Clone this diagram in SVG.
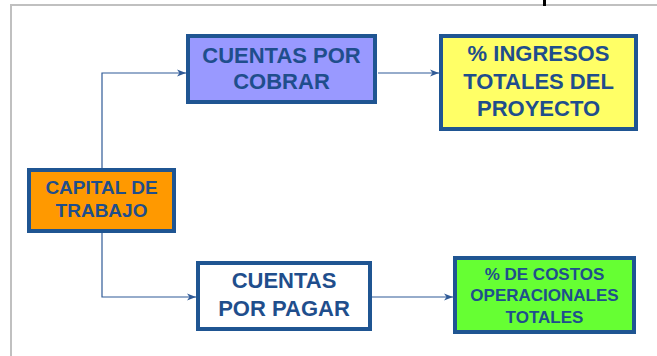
<svg xmlns="http://www.w3.org/2000/svg" width="657" height="356" viewBox="0 0 657 356">
<style>
.box{stroke:#1F5592;stroke-width:4}
.t{font-family:"Liberation Sans",Arial,sans-serif;font-weight:bold;fill:#1F4E8C;text-anchor:middle}
.c{fill:none;stroke:#2F5A97;stroke-width:1.2}
</style>
<defs>
<marker id="ah" markerWidth="10" markerHeight="8" refX="9" refY="4" orient="auto" markerUnits="userSpaceOnUse">
<path d="M0,0.5 L9,4 L0,7.5 L2.5,4 z" fill="#2F5A97"/>
</marker>
</defs>
<rect width="657" height="356" fill="#fff"/>
<path d="M11,356 V5 H657" fill="none" stroke="#C0C0C0" stroke-width="2"/>
<rect x="543" y="0" width="3" height="6" fill="#000"/>
<g id="connectors">
<path class="c" d="M102,168 V73 H186" marker-end="url(#ah)"/>
<path class="c" d="M378,73 H439" marker-end="url(#ah)"/>
<path class="c" d="M102,233 V297 H196" marker-end="url(#ah)"/>
<path class="c" d="M372,297 H453" marker-end="url(#ah)"/>
</g>
<g id="cuentas-cobrar">
<rect class="box" x="188" y="36" width="187" height="66" fill="#9999FF"/>
<text class="t" font-size="22" x="281.5" y="63">CUENTAS POR</text>
<text class="t" font-size="22" x="281.5" y="89">COBRAR</text>
</g>
<g id="ingresos">
<rect class="box" x="441" y="36" width="195" height="93" fill="#FFFF66"/>
<text class="t" font-size="22" x="538.5" y="61">% INGRESOS</text>
<text class="t" font-size="22" x="538.5" y="89">TOTALES DEL</text>
<text class="t" font-size="22" x="538.5" y="116">PROYECTO</text>
</g>
<g id="capital">
<rect class="box" x="29" y="170" width="145" height="61" fill="#FF9900"/>
<text class="t" font-size="19" x="101.5" y="194">CAPITAL DE</text>
<text class="t" font-size="19" x="101.5" y="217">TRABAJO</text>
</g>
<g id="cuentas-pagar">
<rect class="box" x="198" y="263" width="172" height="66" fill="#FFFFFF"/>
<text class="t" font-size="22" x="284" y="288">CUENTAS</text>
<text class="t" font-size="22" x="284" y="316">POR PAGAR</text>
</g>
<g id="costos">
<rect class="box" x="455" y="258" width="179" height="74" fill="#66FF33"/>
<text class="t" font-size="17" x="544.5" y="280">% DE COSTOS</text>
<text class="t" font-size="17" x="544.5" y="301">OPERACIONALES</text>
<text class="t" font-size="17" x="544.5" y="323">TOTALES</text>
</g>
</svg>
